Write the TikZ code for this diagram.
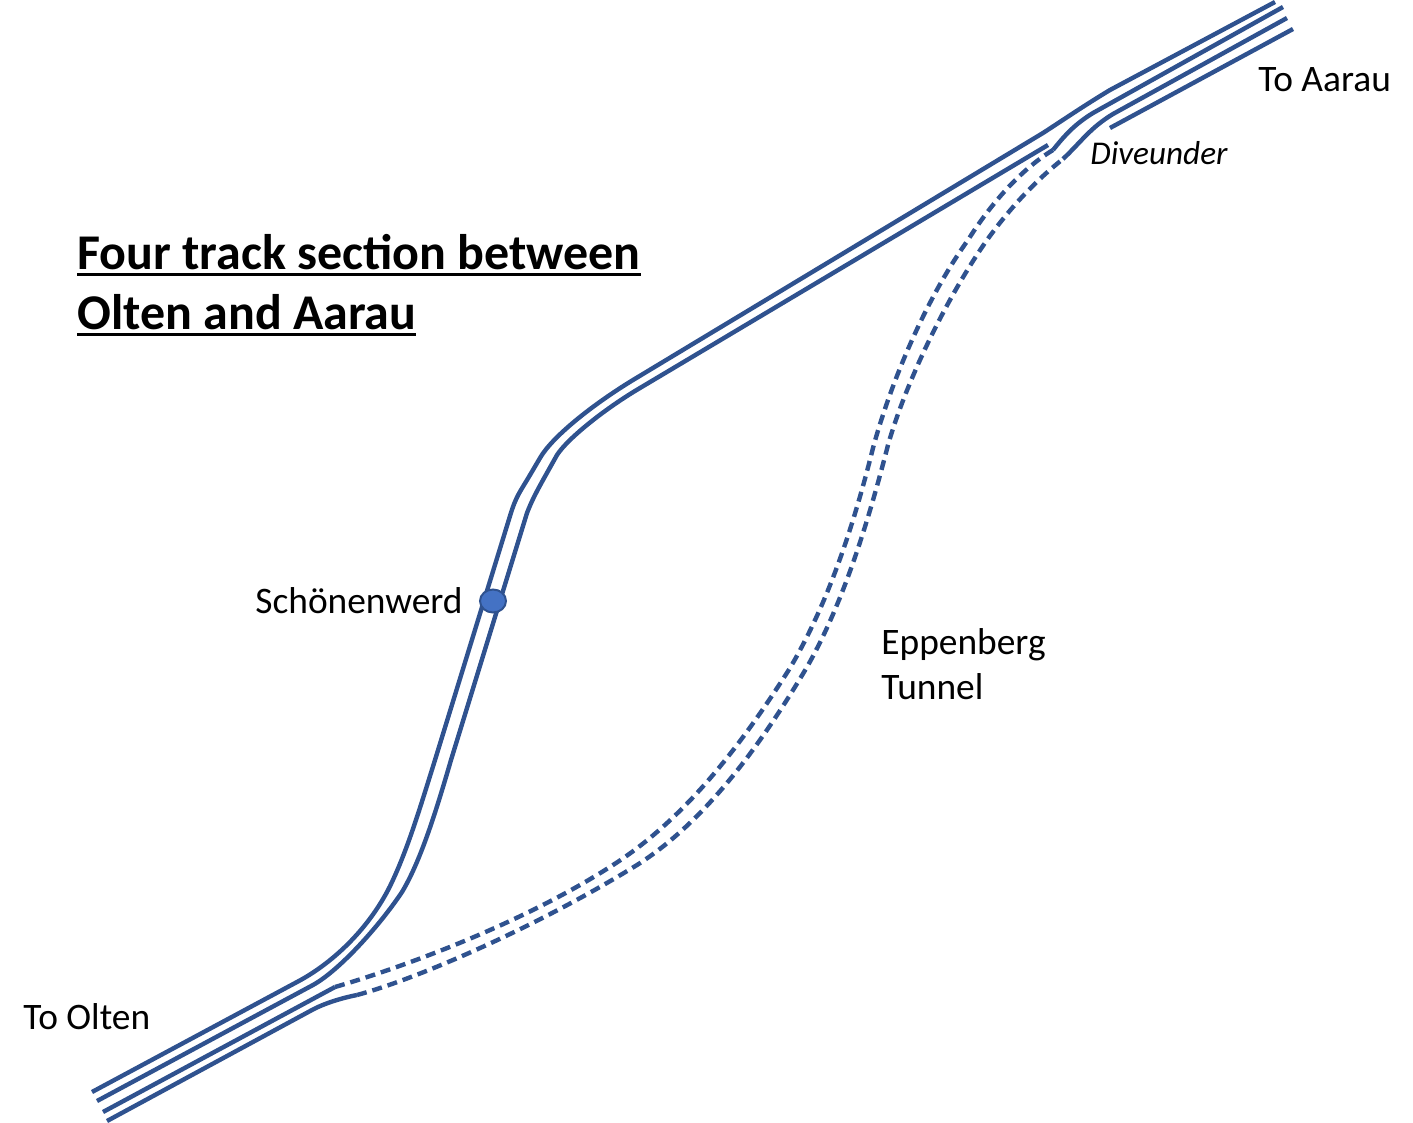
\documentclass[tikz,border=0pt]{standalone}
\usepackage{fontspec}
\setmainfont{Carlito}
\usetikzlibrary{shapes.geometric}
\definecolor{trackblue}{HTML}{2F528F}
\definecolor{stationblue}{HTML}{4472C4}
\newlength\titlewidth
\newcommand{\titleline}[1]{\settowidth\titlewidth{#1}#1\hspace{-\titlewidth}\rule[-3.7pt]{\titlewidth}{1.5pt}}

\begin{document}
\begin{tikzpicture}[
            x = 0.5pt, y = -0.5pt, % reference pixels
            track/.style = {draw=trackblue, line width=2.2pt}, % open line
            tunnel/.style = {track, dash pattern=on 5pt off 3pt}, % underground line
            label/.style = {inner sep=0pt, anchor=base west, font=\fontsize{18.7}{22.5}\selectfont, align=left}
        ]
\useasboundingbox (0,0) rectangle (1413,1123);

% upper pair through the station
\draw[track] (92,1092) -- (297,982) .. controls (335,962) and (372,925) .. (392,882) .. controls (408,848) and (420,808) .. (435,760) -- (510,516) .. controls (516,496) and (520,492) .. (530,475) -- (540,458) .. controls (552,437) and (592,405) .. (633,380) -- (1043,133) .. controls (1060,122) and (1085,105) .. (1110,90) -- (1275,2);
\draw[track] (97,1101) -- (313,985) .. controls (340,970) and (380,925) .. (402,892) .. controls (420,862) and (435,815) .. (451,760) -- (527,513) .. controls (532,500) and (537,491) .. (543,480) -- (557,455) .. controls (568,438) and (606,408) .. (640,388) -- (1048,145);

% lower pair, open parts
\draw[track] (103,1112) -- (335,987);
\draw[track] (107,1121) -- (312,1010) .. controls (325,1003) and (342,998) .. (357,995);
\draw[track] (1053,150) .. controls (1065,135) and (1075,124) .. (1093,113) -- (1283,7);
\draw[track] (1063,159) .. controls (1082,141) and (1090,128) .. (1113,114) -- (1287,18);
\draw[track] (1110,128) -- (1293,29);

% lower pair, tunnel parts
\draw[tunnel] (335,987) .. controls (400,968) and (520,925) .. (613,865) .. controls (680,822) and (735,755) .. (790,668) .. controls (830,600) and (855,520) .. (873,448) .. controls (890,385) and (925,300) .. (968,240) .. controls (990,205) and (1020,170) .. (1053,150);
\draw[tunnel] (357,995) .. controls (420,978) and (540,925) .. (637,865) .. controls (700,825) and (755,755) .. (807,667) .. controls (845,600) and (870,515) .. (888,445) .. controls (905,385) and (945,300) .. (987,240) .. controls (1005,215) and (1030,185) .. (1063,159);

\node[ellipse, draw=trackblue, fill=stationblue, line width=1pt, inner sep=0pt, minimum width=13pt, minimum height=11.5pt] (station) at (493,601) {};

\node[label] (schoenenwerd) at (255,613) {Schönenwerd};
\node[label] (aarau) at (1258,92) {To Aarau};
\node[label] (olten) at (23,1029) {To Olten};
\node[label, font=\fontsize{16.6}{20}\selectfont\itshape] (diveunder) at (1090,165) {Diveunder};
\node[label] (eppenberg) at (881,699) {Eppenberg\\Tunnel};
\node[label, font=\fontsize{25}{30}\selectfont\bfseries] (title) at (77,329) {\titleline{Four track section between}\\\titleline{Olten and Aarau}};
\end{tikzpicture}
\end{document}
